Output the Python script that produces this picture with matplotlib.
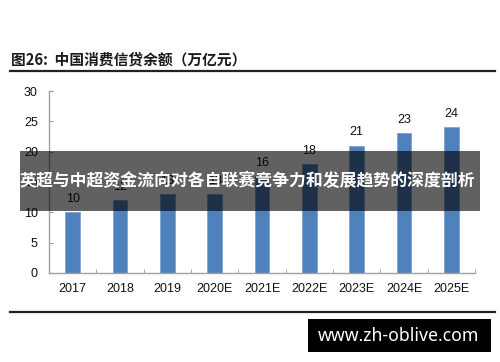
import matplotlib
matplotlib.use("Agg")
import matplotlib.pyplot as plt
from matplotlib.patches import Rectangle
from matplotlib.lines import Line2D
import numpy as np

categories = ["2017", "2018", "2019", "2020E", "2021E", "2022E", "2023E", "2024E", "2025E"]
values = [10, 12, 13, 13, 16, 18, 21, 23, 24]
yticks = [0, 5, 10, 15, 20, 25, 30]
title = "图26:  中国消费信贷余额（万亿元）"
banner = "英超与中超资金流向对各自联赛竞争力和发展趋势的深度剖析"
watermark = "www.zh-oblive.com"

plt.rcParams['font.family'] = ['Liberation Sans', 'Noto Sans CJK SC', 'DejaVu Sans']

fig = plt.figure(figsize=(5, 3.62), dpi=100)
ax = fig.add_axes([0.098, 0.2459, 0.852, 0.5027])

x = np.arange(len(categories))
ax.bar(x, values, width=0.31, color="#4F81BD", edgecolor="#7FA3CF", linewidth=0.6, zorder=2)
for xi, v in zip(x, values):
    ax.text(xi, v + 1.2, str(v), ha="center", va="bottom", fontsize=9, color="#111111")

ax.set_xlim(-0.5, len(categories) - 0.5)
ax.set_ylim(0, 30)
ax.set_yticks(yticks)
ax.set_yticklabels([str(t) for t in yticks], fontsize=9, color="#111111")
ax.set_xticks(x)
ax.set_xticklabels(categories, fontsize=9, color="#111111")
ax.set_xticks(np.arange(len(categories)) + 0.5, minor=True)
ax.tick_params(axis="x", which="major", length=0, pad=7)
ax.tick_params(axis="x", which="minor", direction="in", length=3, color="#999999")
ax.tick_params(axis="y", direction="in", length=3, color="#999999", pad=8)
for s in ["top", "right"]:
    ax.spines[s].set_visible(False)
for s in ["left", "bottom"]:
    ax.spines[s].set_color("#A0A0A0")
    ax.spines[s].set_linewidth(1.0)

# title and rules
fig.text(0.022, 0.837, title, fontsize=10.6, fontweight="bold", color="#1a1a1a",
         family=["Noto Sans CJK SC", "DejaVu Sans"], va="center", ha="left")
fig.add_artist(Line2D([0.02, 0.99], [0.8047, 0.8047], color="#222222", linewidth=1.6))
fig.add_artist(Line2D([0.02, 0.99], [0.137, 0.137], color="#222222", linewidth=1.6))

# banner overlay
fig.add_artist(Rectangle((0.04, 0.418), 0.92, 0.165, transform=fig.transFigure,
                         facecolor="black", alpha=0.62, edgecolor="none", zorder=10))
fig.text(0.495, 0.50, banner, fontsize=12.15, fontweight="bold", color="white",
         family=["Noto Sans CJK SC", "DejaVu Sans"], ha="center", va="center", zorder=11)

# watermark
fig.add_artist(Rectangle((0.616, 0.0276), 0.366, 0.0914, transform=fig.transFigure,
                         facecolor="black", edgecolor="none", zorder=10))
fig.text(0.797, 0.072, watermark, fontsize=12.7, fontweight="bold", color="white",
         family=["Noto Sans", "DejaVu Sans"], ha="center", va="center", zorder=11)

fig.savefig("out.png", dpi=100)
